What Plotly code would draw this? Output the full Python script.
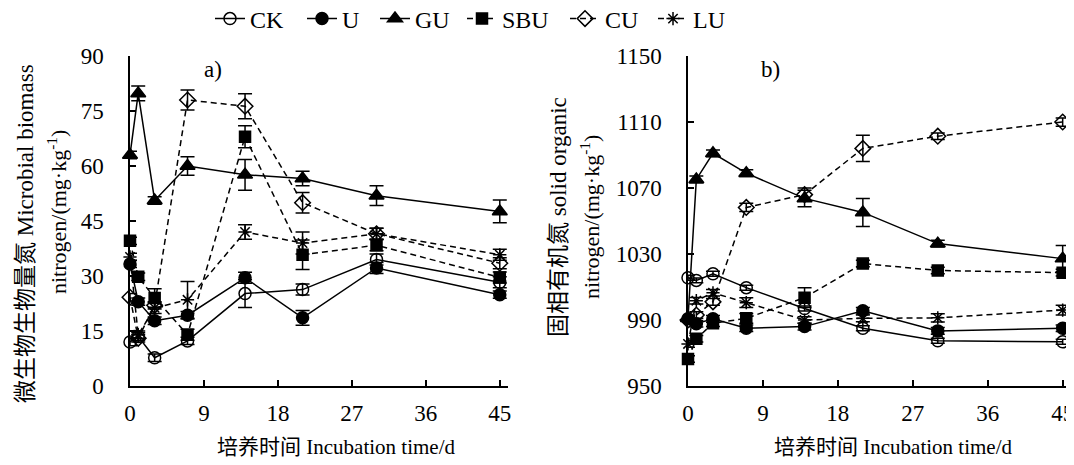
import plotly.graph_objects as go

days = [0, 1, 3, 7, 14, 21, 30, 45]
series_names = ["CK", "U", "GU", "SBU", "CU", "LU"]

# Panel a: microbial biomass nitrogen (mg/kg)
mbn_ck = [12.0, 13.5, 7.7, 12.3, 25.2, 26.3, 34.5, 28.3]
mbn_u = [33.3, 23.0, 17.8, 19.3, 29.5, 18.6, 32.2, 24.9]
mbn_gu = [63.0, 79.8, 50.6, 60.0, 57.6, 56.6, 51.9, 47.6]
mbn_sbu = [39.6, 29.8, 24.0, 14.0, 68.0, 35.8, 38.4, 29.6]
mbn_cu = [24.2, 13.0, 22.0, 78.0, 76.3, 50.0, 41.5, 33.5]
mbn_lu = [35.2, 14.0, 21.3, 23.5, 42.0, 39.0, 41.5, 35.8]

mbn_ck_err = [1.0, 1.0, 1.0, 1.0, 3.8, 1.5, 1.5, 1.5]
mbn_u_err = [1.0, 1.0, 1.0, 1.0, 1.5, 2.0, 1.5, 1.0]
mbn_gu_err = [1.0, 2.0, 1.0, 2.5, 4.2, 2.0, 2.7, 3.1]
mbn_sbu_err = [1.0, 1.0, 2.5, 1.5, 3.0, 4.0, 1.5, 1.5]
mbn_cu_err = [1.0, 1.0, 1.0, 2.7, 3.4, 2.8, 1.5, 1.5]
mbn_lu_err = [1.0, 1.0, 1.5, 5.0, 2.0, 3.0, 1.5, 1.5]

# Panel b: solid organic nitrogen (mg/kg)
son_ck = [1015.6, 1014.0, 1018.0, 1009.6, 997.0, 985.0, 977.4, 976.8]
son_u = [990.7, 987.7, 990.7, 985.0, 986.0, 995.6, 983.4, 985.0]
son_gu = [991.0, 1075.2, 1091.0, 1079.0, 1063.7, 1055.2, 1036.3, 1027.2]
son_sbu = [966.4, 978.6, 988.0, 991.0, 1003.5, 1024.2, 1020.0, 1018.7]
son_cu = [990.0, 993.0, 1001.0, 1058.2, 1066.0, 1094.0, 1101.4, 1110.0]
son_lu = [975.5, 1001.7, 1006.5, 1000.5, 990.0, 991.0, 991.3, 996.0]

son_ck_err = [1.5, 1.5, 1.5, 1.5, 1.5, 1.5, 1.5, 1.5]
son_u_err = [2.0, 2.0, 2.0, 2.0, 2.0, 2.0, 2.0, 2.0]
son_gu_err = [2.0, 2.0, 2.0, 2.0, 5.0, 8.5, 2.0, 8.0]
son_sbu_err = [2.0, 2.0, 2.0, 3.0, 6.0, 2.0, 2.0, 2.0]
son_cu_err = [2.0, 2.0, 2.0, 2.5, 4.0, 8.0, 2.0, 2.5]
son_lu_err = [2.0, 2.0, 2.0, 3.0, 2.0, 2.0, 2.5, 3.0]

x_ticks = [0, 9, 18, 27, 36, 45]
ya_ticks = [0, 15, 30, 45, 60, 75, 90]
yb_ticks = [950, 990, 1030, 1070, 1110, 1150]

FONT = "Liberation Serif, Times New Roman, Noto Sans CJK SC"
W, H = 1074, 465
OFF = 8  # page body margin offset of the figure div

styles = {
    "CK": dict(symbol="circle-open", dash="solid", size=12),
    "U": dict(symbol="circle", dash="solid", size=12),
    "GU": dict(symbol="triangle-up", dash="solid", size=13),
    "SBU": dict(symbol="square", dash="6px,4px", size=11),
    "CU": dict(symbol="diamond-open", dash="6px,4px", size=12),
    "LU": dict(symbol="asterisk-open", dash="6px,4px", size=11),
}
# legend entry left positions (screen px), one legend per series
legend_left = [210, 302, 375, 462, 565, 653]

panel_a = [mbn_ck, mbn_u, mbn_gu, mbn_sbu, mbn_cu, mbn_lu]
panel_a_err = [mbn_ck_err, mbn_u_err, mbn_gu_err, mbn_sbu_err, mbn_cu_err, mbn_lu_err]
panel_b = [son_ck, son_u, son_gu, son_sbu, son_cu, son_lu]
panel_b_err = [son_ck_err, son_u_err, son_gu_err, son_sbu_err, son_cu_err, son_lu_err]

def px_x(p):
    return (p - OFF) / W

def px_y(p):
    return 1 - (p - OFF) / H

fig = go.Figure()
legend_ids = ["legend"] + ["legend%d" % (i + 1) for i in range(1, len(series_names))]
for i, name in enumerate(series_names):
    st = styles[name]
    for k, (vals, errs, xa, ya) in enumerate([(panel_a[i], panel_a_err[i], "x", "y"),
                                              (panel_b[i], panel_b_err[i], "x2", "y2")]):
        fig.add_trace(go.Scatter(
            x=days, y=vals, name=name, mode="lines+markers",
            xaxis=xa, yaxis=ya, showlegend=(k == 0), cliponaxis=False,
            legend=legend_ids[i],
            line=dict(color="black", width=1.5, dash=st["dash"]),
            marker=dict(symbol=st["symbol"], size=st["size"], color="black",
                        line=dict(color="black", width=1.5)),
            error_y=dict(type="data", array=errs, visible=True, color="black",
                         thickness=1.5, width=7),
        ))

ydom = [px_y(386), px_y(56)]
common_axis = dict(showline=True, linecolor="black", linewidth=1.5, ticks="inside",
                   ticklen=6, tickcolor="black", tickwidth=1.5, showgrid=False,
                   zeroline=False, automargin=False,
                   tickfont=dict(family=FONT, size=23, color="black"))

layout_kw = dict(
    width=W, height=H, margin=dict(l=0, r=0, t=0, b=0, autoexpand=False),
    paper_bgcolor="white", plot_bgcolor="white",
    font=dict(family=FONT, size=22, color="black"),
    xaxis=dict(domain=[px_x(130), px_x(508)], range=[0, 46], tickvals=x_ticks,
               anchor="y", ticklabelstandoff=6, **common_axis),
    yaxis=dict(domain=ydom, range=[0, 90], tickvals=ya_ticks, anchor="x",
               ticklabelstandoff=20, **common_axis),
    xaxis2=dict(domain=[px_x(688), px_x(1071)], range=[0, 46], tickvals=x_ticks,
                anchor="y2", ticklabelstandoff=6, **common_axis),
    yaxis2=dict(domain=ydom, range=[950, 1150], tickvals=yb_ticks, anchor="x2",
                ticklabelstandoff=20, **common_axis),
)
for lid, left in zip(legend_ids, legend_left):
    layout_kw[lid] = dict(orientation="h", x=px_x(left), xanchor="left", y=px_y(19),
                          yanchor="middle", font=dict(family=FONT, size=24),
                          bgcolor="rgba(0,0,0,0)")
fig.update_layout(**layout_kw)

annots = [
    dict(text="a)", x=px_x(213), y=px_y(70), size=23),
    dict(text="b)", x=px_x(771), y=px_y(70), size=23),
    dict(text="培养时间 Incubation time/d", x=px_x(336), y=px_y(447), size=21),
    dict(text="培养时间 Incubation time/d", x=px_x(893), y=px_y(447), size=21),
    dict(text="微生物生物量氮 Microbial biomass", x=px_x(25), y=px_y(234), textangle=-90, size=23),
    dict(text="nitrogen/(mg·kg<sup>-1</sup>)", x=px_x(57), y=px_y(212), textangle=-90, size=22),
    dict(text="固相有机氮 solid organic", x=px_x(558), y=px_y(217), textangle=-90, size=23),
    dict(text="nitrogen/(mg·kg<sup>-1</sup>)", x=px_x(590), y=px_y(217), textangle=-90, size=22),
]
for a in annots:
    sz = a.pop("size")
    fig.add_annotation(xref="paper", yref="paper", showarrow=False, xanchor="center",
                       yanchor="middle", font=dict(family=FONT, size=sz, color="black"), **a)

fig.write_html("out.html")
